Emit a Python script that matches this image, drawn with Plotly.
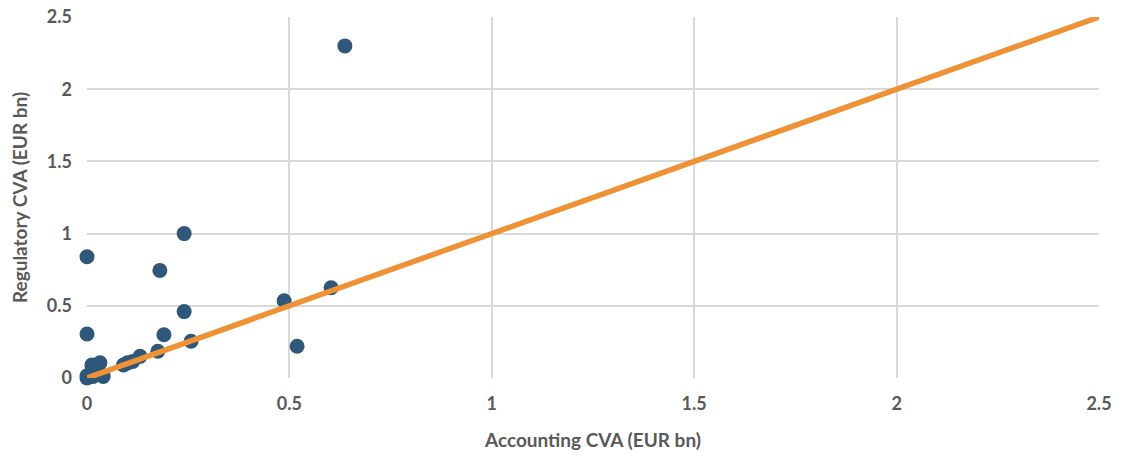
import plotly.graph_objects as go

# Accounting vs regulatory CVA per bank (EUR bn)
accounting_cva = [0.637, 0.24, 0.0, 0.18, 0.0, 0.19, 0.24, 0.257, 0.487, 0.519,
                  0.603, 0.175, 0.09, 0.10, 0.113, 0.131, 0.0, 0.005, 0.012,
                  0.02, 0.032, 0.04, 0.015, 0.0]
regulatory_cva = [2.30, 1.00, 0.84, 0.745, 0.305, 0.30, 0.46, 0.255, 0.535, 0.22,
                  0.625, 0.185, 0.09, 0.105, 0.115, 0.15, 0.0, 0.02, 0.09,
                  0.06, 0.105, 0.01, 0.01, 0.015]

# 45-degree reference line
diag = [0, 2.5]

tick_vals = [0, 0.5, 1, 1.5, 2, 2.5]
tick_text = ["0", "0.5", "1", "1.5", "2", "2.5"]

font_family = "Lato, 'Open Sans', sans-serif"
grey = "#595959"
tick_font = dict(family=font_family, size=18, color=grey, weight="bold")
title_font = dict(family=font_family, size=19, color=grey, weight="bold")

fig = go.Figure()
fig.add_trace(go.Scatter(
    x=accounting_cva, y=regulatory_cva, mode="markers",
    marker=dict(size=15, color="#2E5779"),
    cliponaxis=False, showlegend=False,
))
fig.add_trace(go.Scatter(
    x=diag, y=diag, mode="lines",
    line=dict(color="#EE9235", width=5.5),
    cliponaxis=False, showlegend=False,
))

axis_common = dict(
    range=[0, 2.5], tickvals=tick_vals, ticktext=tick_text,
    showgrid=True, gridcolor="#D9D9D9", gridwidth=2,
    zeroline=False, showline=False, automargin=False,
    ticks="", ticklen=0, tickfont=tick_font,
)

fig.update_layout(
    width=1125, height=459,
    margin=dict(l=87, r=26, t=17, b=81),
    paper_bgcolor="white", plot_bgcolor="white",
    font=dict(family=font_family, color=grey),
    xaxis=dict(**axis_common, ticklabelstandoff=13,
               title=dict(text="Accounting CVA (EUR bn)", font=title_font,
                          standoff=20)),
    yaxis=dict(**axis_common, ticklabelstandoff=14,
               title=dict(text="Regulatory CVA (EUR bn)", font=title_font,
                          standoff=14)),
)

fig.write_html("out.html")
